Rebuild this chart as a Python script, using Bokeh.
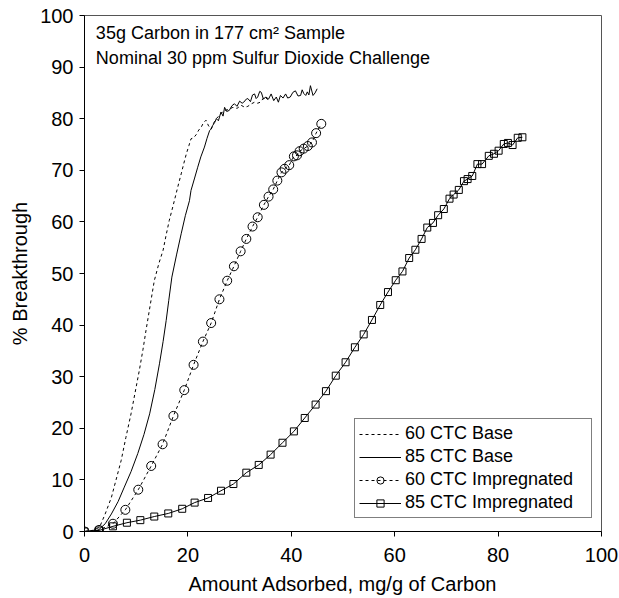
from bokeh.plotting import figure
from bokeh.models import Range1d, Legend, LegendItem, Label, FixedTicker
from bokeh.embed import file_html
from bokeh.resources import INLINE

# ---- data ----
base60_x = [0, 1.5, 2.9, 4.0, 5.2, 6.1, 7.1, 8.0, 9.0, 9.8,
            10.6, 11.3, 11.9, 12.7, 13.5, 14.4, 15.2, 15.8, 16.4, 17.1,
            17.7, 18.2, 18.7, 19.2, 19.7, 20.2, 20.6, 21.1, 21.6, 22.1,
            22.6, 23.0, 23.5, 24.0, 24.5, 25.0, 25.5, 26.3, 27.1, 27.9,
            28.7, 29.5, 30.3, 31.0, 31.6, 32.3, 32.9, 33.5, 34.0, 34.8, 35.5]
base60_y = [0, 0.2, 0.8, 3.4, 6.6, 10.0, 13.8, 18.2, 22.8, 27.0,
            31.2, 35.2, 39.0, 43.8, 48.6, 52.0, 54.5, 57.5, 60.3, 63.0,
            65.4, 67.4, 69.3, 71.3, 73.2, 74.8, 76.1, 76.3, 76.9, 77.8,
            78.4, 79.2, 79.7, 78.6, 78.0, 79.2, 80.0, 80.9, 81.6, 81.8,
            82.2, 82.0, 82.6, 82.2, 82.4, 82.9, 83.2, 83.0, 83.2, 84.2, 83.7]

base85_x = [0, 1.5, 2.6, 4.0, 5.2, 6.5, 7.7, 9.0, 10.3, 11.5,
            12.6, 13.6, 14.5, 15.2, 15.8, 16.3, 16.9, 17.8, 18.7, 19.5,
            20.3, 20.6, 21.3, 21.9, 22.5, 23.2, 23.7, 24.2, 24.5, 24.8,
            25.2, 25.5, 25.9, 26.4, 26.8, 27.1, 27.5, 28.0, 28.5, 29.0,
            29.5, 30.0, 30.5, 30.8, 31.3, 31.6, 32.1, 32.5, 32.9, 33.2,
            33.5, 33.9, 34.2, 34.6, 35.1, 35.6, 36.1, 36.6, 37.1, 37.5,
            37.9, 38.4, 38.9, 39.3, 39.8, 40.3, 40.8, 41.3, 41.8, 42.1,
            42.4, 42.8, 43.1, 43.4, 43.7, 44.2, 44.6, 45.0]
base85_y = [0, 0.1, 0.2, 1.5, 3.4, 5.8, 8.6, 11.6, 15.1, 18.8,
            22.8, 27.5, 32.5, 36.8, 40.9, 44.8, 49.3, 53.6, 57.7, 61.2,
            64.1, 66.1, 68.5, 70.6, 72.6, 74.5, 76.2, 77.7, 78.0, 78.7,
            79.3, 80.0, 79.6, 81.3, 80.5, 82.2, 81.4, 81.6, 82.5, 82.9,
            82.4, 83.4, 83.0, 83.2, 83.8, 83.9, 83.3, 84.6, 84.8, 83.9,
            84.2, 85.3, 85.1, 83.8, 84.2, 83.8, 84.8, 83.5, 84.2, 83.2,
            84.5, 84.0, 84.8, 84.0, 84.2, 85.1, 85.4, 84.4, 84.5, 85.6,
            84.9, 84.5, 85.2, 84.6, 86.4, 84.5, 85.0, 85.8]

imp60_x = [0, 2.8, 5.5, 7.9, 10.4, 12.9, 15.1, 17.2, 19.3, 21.1,
           22.9, 24.5, 26.1, 27.6, 28.9, 30.2, 31.3, 32.5, 33.5, 34.7,
           35.6, 36.5, 37.3, 38.1, 38.7, 39.6, 40.5, 41.1, 41.6, 42.4,
           43.2, 44.0, 44.8, 45.8]
imp60_y = [0, 0.3, 1.5, 4.2, 8.1, 12.7, 16.9, 22.4, 27.4, 32.3,
           36.8, 40.4, 45.0, 48.6, 51.4, 54.3, 56.7, 59.1, 60.9, 63.3,
           64.9, 66.3, 68.0, 69.6, 70.3, 71.0, 72.7, 72.9, 73.7, 74.2,
           74.7, 75.4, 77.2, 79.0]

imp85_x = [0, 2.8, 5.5, 8.2, 10.8, 13.5, 16.2, 18.9, 21.3, 23.9,
           26.4, 28.8, 31.3, 33.7, 36.0, 38.3, 40.5, 42.6, 44.7, 46.7,
           48.6, 50.5, 52.3, 54.0, 55.6, 57.2, 58.7, 60.2, 61.5, 62.8,
           64.0, 65.2, 66.3, 67.4, 68.4, 69.5, 70.6, 71.4, 72.4, 73.4,
           74.1, 75.0, 76.0, 76.9, 78.2, 79.2, 80.1, 81.1, 81.9, 82.8,
           83.8, 84.7]
imp85_y = [0, 0.2, 1.0, 1.7, 2.2, 2.9, 3.5, 4.4, 5.6, 6.5,
           7.9, 9.2, 11.4, 12.9, 14.9, 17.2, 19.4, 22.0, 24.6, 27.2,
           30.2, 32.8, 35.7, 38.2, 41.0, 43.9, 46.4, 48.7, 50.4, 53.0,
           54.6, 56.7, 58.9, 59.8, 61.3, 62.5, 64.5, 65.3, 66.2, 67.9,
           68.3, 68.9, 71.2, 71.2, 72.8, 73.2, 73.8, 75.1, 75.3, 74.9,
           76.3, 76.4]

series_labels = ["60 CTC Base", "85 CTC Base", "60 CTC Impregnated", "85 CTC Impregnated"]
x_ticks = [0, 20, 40, 60, 80, 100]
y_ticks = [0, 10, 20, 30, 40, 50, 60, 70, 80, 90, 100]
x_title = "Amount Adsorbed, mg/g of Carbon"
y_title = "% Breakthrough"
note_lines = ["35g Carbon in 177 cm\u00b2 Sample", "Nominal 30 ppm Sulfur Dioxide Challenge"]

FONT = "Liberation Sans"

p = figure(width=619, height=598, x_range=Range1d(0, 100), y_range=Range1d(0, 100),
           output_backend="svg", toolbar_location=None,
           min_border_left=84, min_border_right=18, min_border_top=15, min_border_bottom=67)
p.background_fill_color = "white"
p.border_fill_color = "white"
p.outline_line_color = "#555555"
p.xgrid.visible = False
p.ygrid.visible = False

for ax in (p.xaxis[0], p.yaxis[0]):
    ax.axis_line_color = "black"
    ax.major_tick_line_color = "black"
    ax.major_tick_in = 0
    ax.major_tick_out = 5
    ax.minor_tick_line_color = None
    ax.major_label_text_font = FONT
    ax.major_label_text_font_size = "20px"
    ax.major_label_text_color = "black"
    ax.axis_label_text_font = FONT
    ax.axis_label_text_font_size = "20px"
    ax.axis_label_text_font_style = "normal"
    ax.axis_label_text_color = "black"

p.xaxis[0].ticker = FixedTicker(ticks=x_ticks)
p.yaxis[0].ticker = FixedTicker(ticks=y_ticks)
p.xaxis[0].major_label_text_line_height = 0.8
p.xaxis[0].axis_label_text_line_height = 0.8
p.xaxis[0].major_label_standoff = 11
p.xaxis[0].axis_label = x_title
p.xaxis[0].axis_label_standoff = 8
p.yaxis[0].major_label_standoff = 6
p.yaxis[0].axis_label = y_title
p.yaxis[0].axis_label_standoff = 6

r1 = p.line(base60_x, base60_y, line_color="black", line_width=1, line_dash="3 3")
r2 = p.line(base85_x, base85_y, line_color="black", line_width=1)
r3l = p.line(imp60_x, imp60_y, line_color="black", line_width=1, line_dash="3 3")
r3m = p.scatter(imp60_x, imp60_y, marker="circle", size=9, line_color="black",
                fill_alpha=0, line_width=1)
r4l = p.line(imp85_x, imp85_y, line_color="black", line_width=1)
r4m = p.scatter(imp85_x, imp85_y, marker="square", size=7, line_color="black",
                fill_alpha=0, line_width=1)

legend = Legend(items=[
    LegendItem(label=series_labels[0], renderers=[r1]),
    LegendItem(label=series_labels[1], renderers=[r2]),
    LegendItem(label=series_labels[2], renderers=[r3l, r3m]),
    LegendItem(label=series_labels[3], renderers=[r4l, r4m]),
], location=(270, 13))
legend.margin = 0
legend.padding = 4
legend.spacing = 2
legend.glyph_width = 42
legend.glyph_height = 18
legend.label_height = 18
legend.label_width = 182
legend.label_standoff = 4
legend.label_text_font = FONT
legend.label_text_font_size = "18px"
legend.label_text_color = "black"
legend.border_line_color = "black"
legend.border_line_width = 1
legend.background_fill_color = "white"
legend.background_fill_alpha = 1
p.add_layout(legend, "center")

for txt, yv in zip(note_lines, [96.7, 91.8]):
    p.add_layout(Label(x=2.2, y=yv, text=txt, text_font=FONT, text_font_size="18px",
                       text_baseline="middle", text_align="left", text_color="black"))

open("out.html", "w").write(file_html(p, INLINE))
